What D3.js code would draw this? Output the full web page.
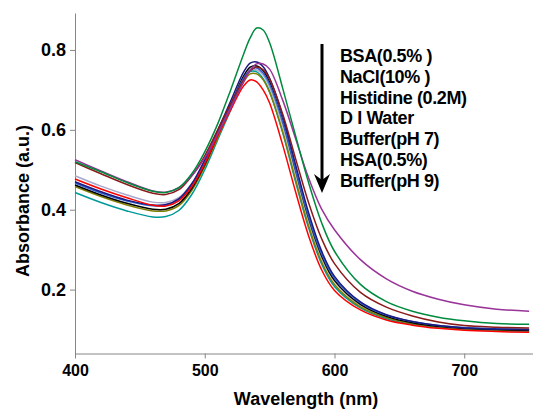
<!DOCTYPE html>
<html>
<head>
<meta charset="utf-8">
<script src="https://cdn.jsdelivr.net/npm/d3@7"></script>
<style>
  body { margin: 0; background: #fff; }
  svg text { font-family: "Liberation Sans", Arial, sans-serif; font-weight: bold; }
</style>
</head>
<body>
<div id="chart-area"></div>
<script>
// wavelengths (nm) shared by every spectrum
const wavelength = [400, 420, 440, 460, 470, 480, 490, 500, 510, 520, 530, 535, 540, 545, 550, 560, 570, 580, 590, 600, 620, 640, 660, 680, 700, 725, 750];

const purple   = [0.525, 0.497, 0.470, 0.447, 0.444, 0.455, 0.485, 0.530, 0.590, 0.655, 0.720, 0.750, 0.765, 0.765, 0.752, 0.675, 0.578, 0.480, 0.402, 0.350, 0.275, 0.227, 0.196, 0.176, 0.162, 0.151, 0.146];
const maroon   = [0.518, 0.490, 0.463, 0.441, 0.438, 0.450, 0.485, 0.535, 0.600, 0.665, 0.725, 0.748, 0.757, 0.750, 0.727, 0.640, 0.528, 0.418, 0.328, 0.265, 0.193, 0.156, 0.134, 0.119, 0.110, 0.106, 0.104];
const green    = [0.520, 0.495, 0.468, 0.446, 0.443, 0.455, 0.490, 0.545, 0.615, 0.700, 0.790, 0.830, 0.855, 0.850, 0.818, 0.705, 0.585, 0.468, 0.368, 0.296, 0.213, 0.170, 0.146, 0.131, 0.122, 0.115, 0.113];
const lavender = [0.485, 0.459, 0.437, 0.419, 0.418, 0.430, 0.465, 0.522, 0.590, 0.660, 0.728, 0.748, 0.750, 0.737, 0.707, 0.612, 0.490, 0.373, 0.280, 0.221, 0.161, 0.132, 0.117, 0.108, 0.103, 0.100, 0.098];
const red      = [0.477, 0.452, 0.430, 0.411, 0.409, 0.422, 0.458, 0.515, 0.585, 0.650, 0.710, 0.725, 0.720, 0.700, 0.667, 0.563, 0.445, 0.335, 0.250, 0.198, 0.149, 0.124, 0.111, 0.103, 0.098, 0.095, 0.093];
const navy     = [0.470, 0.445, 0.424, 0.412, 0.413, 0.427, 0.465, 0.525, 0.598, 0.672, 0.745, 0.767, 0.770, 0.758, 0.729, 0.636, 0.513, 0.393, 0.297, 0.233, 0.169, 0.137, 0.120, 0.110, 0.104, 0.101, 0.100];
const blue     = [0.467, 0.442, 0.422, 0.410, 0.411, 0.425, 0.462, 0.520, 0.590, 0.662, 0.730, 0.750, 0.755, 0.742, 0.714, 0.621, 0.500, 0.383, 0.290, 0.228, 0.167, 0.136, 0.120, 0.110, 0.105, 0.102, 0.100];
const black    = [0.462, 0.437, 0.416, 0.401, 0.401, 0.415, 0.453, 0.513, 0.587, 0.662, 0.735, 0.757, 0.760, 0.748, 0.719, 0.624, 0.500, 0.380, 0.285, 0.223, 0.163, 0.133, 0.117, 0.108, 0.103, 0.100, 0.098];
const olive    = [0.458, 0.433, 0.412, 0.397, 0.397, 0.410, 0.448, 0.508, 0.580, 0.652, 0.720, 0.740, 0.740, 0.725, 0.694, 0.596, 0.475, 0.360, 0.270, 0.213, 0.157, 0.130, 0.115, 0.107, 0.102, 0.099, 0.097];
const teal     = [0.443, 0.418, 0.397, 0.382, 0.383, 0.398, 0.438, 0.500, 0.575, 0.650, 0.725, 0.746, 0.745, 0.728, 0.695, 0.594, 0.470, 0.355, 0.265, 0.208, 0.154, 0.127, 0.113, 0.105, 0.100, 0.097, 0.095];

const seriesList = [
  { values: lavender, color: "#a8a8cc" },
  { values: teal, color: "#009999" },
  { values: olive, color: "#7f7f00" },
  { values: black, color: "#000000" },
  { values: blue, color: "#2f5fd0" },
  { values: navy, color: "#1a1a80" },
  { values: red, color: "#ff0000" },
  { values: maroon, color: "#8b1a1a" },
  { values: purple, color: "#993399" },
  { values: green, color: "#008a3e" }
];

const legendLabels = ["BSA(0.5% )", "NaCl(10% )", "Histidine (0.2M)", "D I Water", "Buffer(pH 7)", "HSA(0.5%)", "Buffer(pH 9)"];
const xTicks = [400, 500, 600, 700];
const yTicks = [0.2, 0.4, 0.6, 0.8];

const W = 533, H = 411;
const plotLeft = 75, plotTop = 13, plotBottom = 353.5;

const svg = d3.select("#chart-area")
  .append("svg")
    .attr("width", W)
    .attr("height", H);

const x = d3.scaleLinear()
  .domain([400, 753])
  .range([plotLeft, W]);

const y = d3.scaleLinear()
  .domain([0.04, 0.8925])
  .range([plotBottom, plotTop]);

// axes
const xAxisCall = d3.axisBottom(x)
  .tickValues(xTicks)
  .tickSize(5)
  .tickSizeOuter(0)
  .tickPadding(6);
const xg = svg.append("g")
  .attr("class", "x axis")
  .attr("transform", "translate(0," + plotBottom + ")")
  .call(xAxisCall);

const yAxisCall = d3.axisLeft(y)
  .tickValues(yTicks)
  .tickSize(5)
  .tickSizeOuter(0)
  .tickPadding(4)
  .tickFormat(d3.format(".1f"));
const yg = svg.append("g")
  .attr("class", "y axis")
  .attr("transform", "translate(" + plotLeft + ",0)")
  .call(yAxisCall);

svg.selectAll(".axis path, .axis line").attr("stroke", "#868686");
xg.selectAll("text").attr("font-size", "16px").attr("fill", "#000");
yg.selectAll("text").attr("font-size", "18px").attr("fill", "#000");

// spectra
const line = d3.line()
  .x((d, i) => x(wavelength[i]))
  .y(d => y(d))
  .curve(d3.curveCatmullRom);

svg.append("g")
  .selectAll("path")
  .data(seriesList)
  .enter()
  .append("path")
    .attr("d", d => line(d.values))
    .attr("fill", "none")
    .attr("stroke", d => d.color)
    .attr("stroke-width", 1.5);

// axis titles
svg.append("text")
  .attr("x", 306)
  .attr("y", 405)
  .attr("font-size", "18px")
  .attr("text-anchor", "middle")
  .text("Wavelength (nm)");

svg.append("text")
  .attr("transform", "translate(29,201) rotate(-90)")
  .attr("font-size", "18px")
  .attr("text-anchor", "middle")
  .text("Absorbance (a.u.)");

// arrow
svg.append("line")
  .attr("x1", 322).attr("x2", 322)
  .attr("y1", 44).attr("y2", 182)
  .attr("stroke", "#000")
  .attr("stroke-width", 3);
svg.append("path")
  .attr("d", "M314,174 L322,180 L330,174 L322,193 Z")
  .attr("fill", "#000");

// legend text
svg.append("g")
  .selectAll("text")
  .data(legendLabels)
  .enter()
  .append("text")
    .attr("x", 340)
    .attr("y", (d, i) => 62 + i * 20.8)
    .attr("font-size", "18px")
    .attr("letter-spacing", "-0.4px")
    .text(d => d);
</script>
</body>
</html>
